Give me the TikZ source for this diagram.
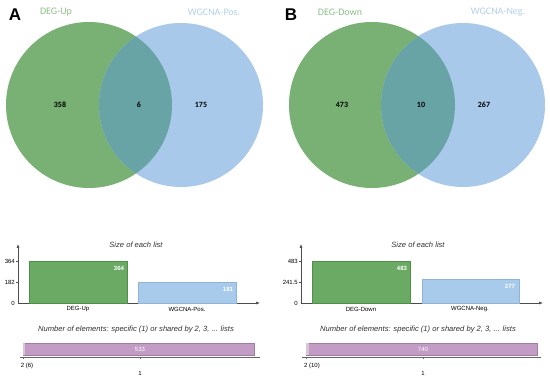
\documentclass[tikz,border=0pt]{standalone}
\usepackage{fontspec}
\setmainfont{Liberation Sans}
\newfontfamily\venfont{Carlito}
\usetikzlibrary{arrows.meta}
\definecolor{vgreen}{HTML}{78B173}
\definecolor{vblue}{HTML}{A8C9E9}
\definecolor{vmix}{HTML}{68A4A5}
\definecolor{bgreen}{HTML}{6BAA65}
\definecolor{bgreenD}{HTML}{4F8F4A}
\definecolor{bblue}{HTML}{A9CBEB}
\definecolor{bblueD}{HTML}{8FB4D8}
\definecolor{bpurp}{HTML}{C29CC5}
\definecolor{bpurpD}{HTML}{A07DA3}
\definecolor{lgreen}{HTML}{8DBF88}
\definecolor{lblue}{HTML}{B4D0EA}
\tikzset{
  vcircG/.style={fill=vgreen},
  vcircB/.style={fill=vblue},
  vover/.style={fill=vmix},
  vlabG/.style={text=lgreen, font=\venfont\fontsize{10}{11}\selectfont, inner sep=0pt},
  vlabB/.style={text=lblue, font=\venfont\fontsize{10}{11}\selectfont, inner sep=0pt},
  vnum/.style={font=\venfont\bfseries\fontsize{8}{9}\selectfont, inner sep=0pt},
  panel/.style={font=\bfseries\fontsize{17}{18}\selectfont, inner sep=0pt},
  ctitle/.style={font=\itshape\fontsize{7.6}{8}\selectfont, text=black!80, inner sep=0pt},
  tick/.style={font=\fontsize{6}{7}\selectfont, inner sep=0pt},
  axl/.style={draw=black!70, line width=0.6pt},
  axa/.style={draw=black!70, line width=0.6pt, -{Latex[length=4pt,width=3pt]}},
  gbar/.style={fill=bgreen, draw=bgreenD, line width=0.6pt},
  bbar/.style={fill=bblue, draw=bblueD, line width=0.4pt},
  pbar/.style={fill=bpurp, draw=bpurpD, line width=0.4pt},
  bval/.style={text=white, font=\bfseries\fontsize{6}{7}\selectfont, inner sep=0pt},
}
\begin{document}
\begin{tikzpicture}[x=1pt,y=-1pt]
\useasboundingbox (0,0) rectangle (550,382);
\fill[white] (0,0) rectangle (550,382);
% ---------- Panel A Venn
\fill[vcircG] (89,105) circle (83);
\fill[vcircB] (181,105) circle (82);
\begin{scope}
\clip (89,105) circle (83);
\fill[vover] (181,105) circle (82);
\end{scope}
\node[panel] (A) at (15,15) {A};
\node[vlabG] (la1) at (56,12) {DEG-Up};
\node[vlabB] (la2) at (214,12) {WGCNA-Pos.};
\node[vnum] (na1) at (60,105) {358};
\node[vnum] (na2) at (139,105) {6};
\node[vnum] (na3) at (201,105) {175};
% ---------- Panel B Venn
\fill[vcircG] (372,105) circle (83);
\fill[vcircB] (463,105) circle (82);
\begin{scope}
\clip (372,105) circle (83);
\fill[vover] (463,105) circle (82);
\end{scope}
\node[panel] (B) at (291,15) {B};
\node[vlabG] (lb1) at (340,12) {DEG-Down};
\node[vlabB] (lb2) at (498,12) {WGCNA-Neg.};
\node[vnum] (nb1) at (342,105) {473};
\node[vnum] (nb2) at (421,105) {10};
\node[vnum] (nb3) at (484,105) {267};
% ---------- Panel A bar chart
\node[ctitle] (ta1) at (136,245) {Size of each list};
\coordinate (ao) at (18,303);
\coordinate (ay) at (18,244);
\coordinate (ax) at (260,303);
\draw[axa] (ao) -- (ay);
\draw[axa] (ao) -- (ax);
\draw[gbar] (29,261) rectangle (127,303);
\draw[bbar] (138,282) rectangle (236,303);
\node[bval] (va1) at (119,268) {364};
\node[bval] (va2) at (228,289) {181};
\node[tick, anchor=east] (ya1) at (15,261) {364};
\node[tick, anchor=east] (ya2) at (15,282) {182};
\node[tick, anchor=east] (ya3) at (15,303) {0};
\draw[axl] (16,261) -- (18,261) (16,282) -- (18,282);
\node[tick] (xa1) at (78,309) {DEG-Up};
\node[tick] (xa2) at (187,309) {WGCNA-Pos.};
\node[ctitle] (ta2) at (136,330) {Number of elements: specific (1) or shared by 2, 3, ... lists};
\draw[pbar] (23,343) rectangle (254,355);
\fill[bpurp!60] (23.3,343.3) rectangle (25,354.7);
\node[bval, font=\fontsize{6}{7}\selectfont] (va3) at (140,349) {533};
\draw[axl, draw=black!60] (20,357) -- (260,357);
\draw[axl, draw=black!60] (23,357) -- (23,359) (140,357) -- (140,359);
\node[tick] (xa3) at (27,366) {2 (6)};
\node[tick] (xa4) at (140,373) {1};
% ---------- Panel B bar chart
\node[ctitle] (tb1) at (418,245) {Size of each list};
\coordinate (bo) at (301,303);
\coordinate (by) at (301,244);
\coordinate (bx) at (543,303);
\draw[axa] (bo) -- (by);
\draw[axa] (bo) -- (bx);
\draw[gbar] (312,261) rectangle (410,303);
\draw[bbar] (422,279) rectangle (519,303);
\node[bval] (vb1) at (402,268) {483};
\node[bval] (vb2) at (510,286) {277};
\node[tick, anchor=east] (yb1) at (298,261) {483};
\node[tick, anchor=east] (yb2) at (298,282) {241.5};
\node[tick, anchor=east] (yb3) at (298,303) {0};
\draw[axl] (299,261) -- (301,261) (299,282) -- (301,282);
\node[tick] (xb1) at (361,309) {DEG-Down};
\node[tick] (xb2) at (470,309) {WGCNA-Neg.};
\node[ctitle] (tb2) at (418,330) {Number of elements: specific (1) or shared by 2, 3, ... lists};
\draw[pbar] (306,343) rectangle (537,355);
\fill[bpurp!60] (306.3,343.3) rectangle (309,354.7);
\node[bval, font=\fontsize{6}{7}\selectfont] (vb3) at (423,349) {740};
\draw[axl, draw=black!60] (302,357) -- (541,357);
\draw[axl, draw=black!60] (306,357) -- (306,359) (423,357) -- (423,359);
\node[tick] (xb3) at (312,366) {2 (10)};
\node[tick] (xb4) at (423,373) {1};
\end{tikzpicture}
\end{document}
